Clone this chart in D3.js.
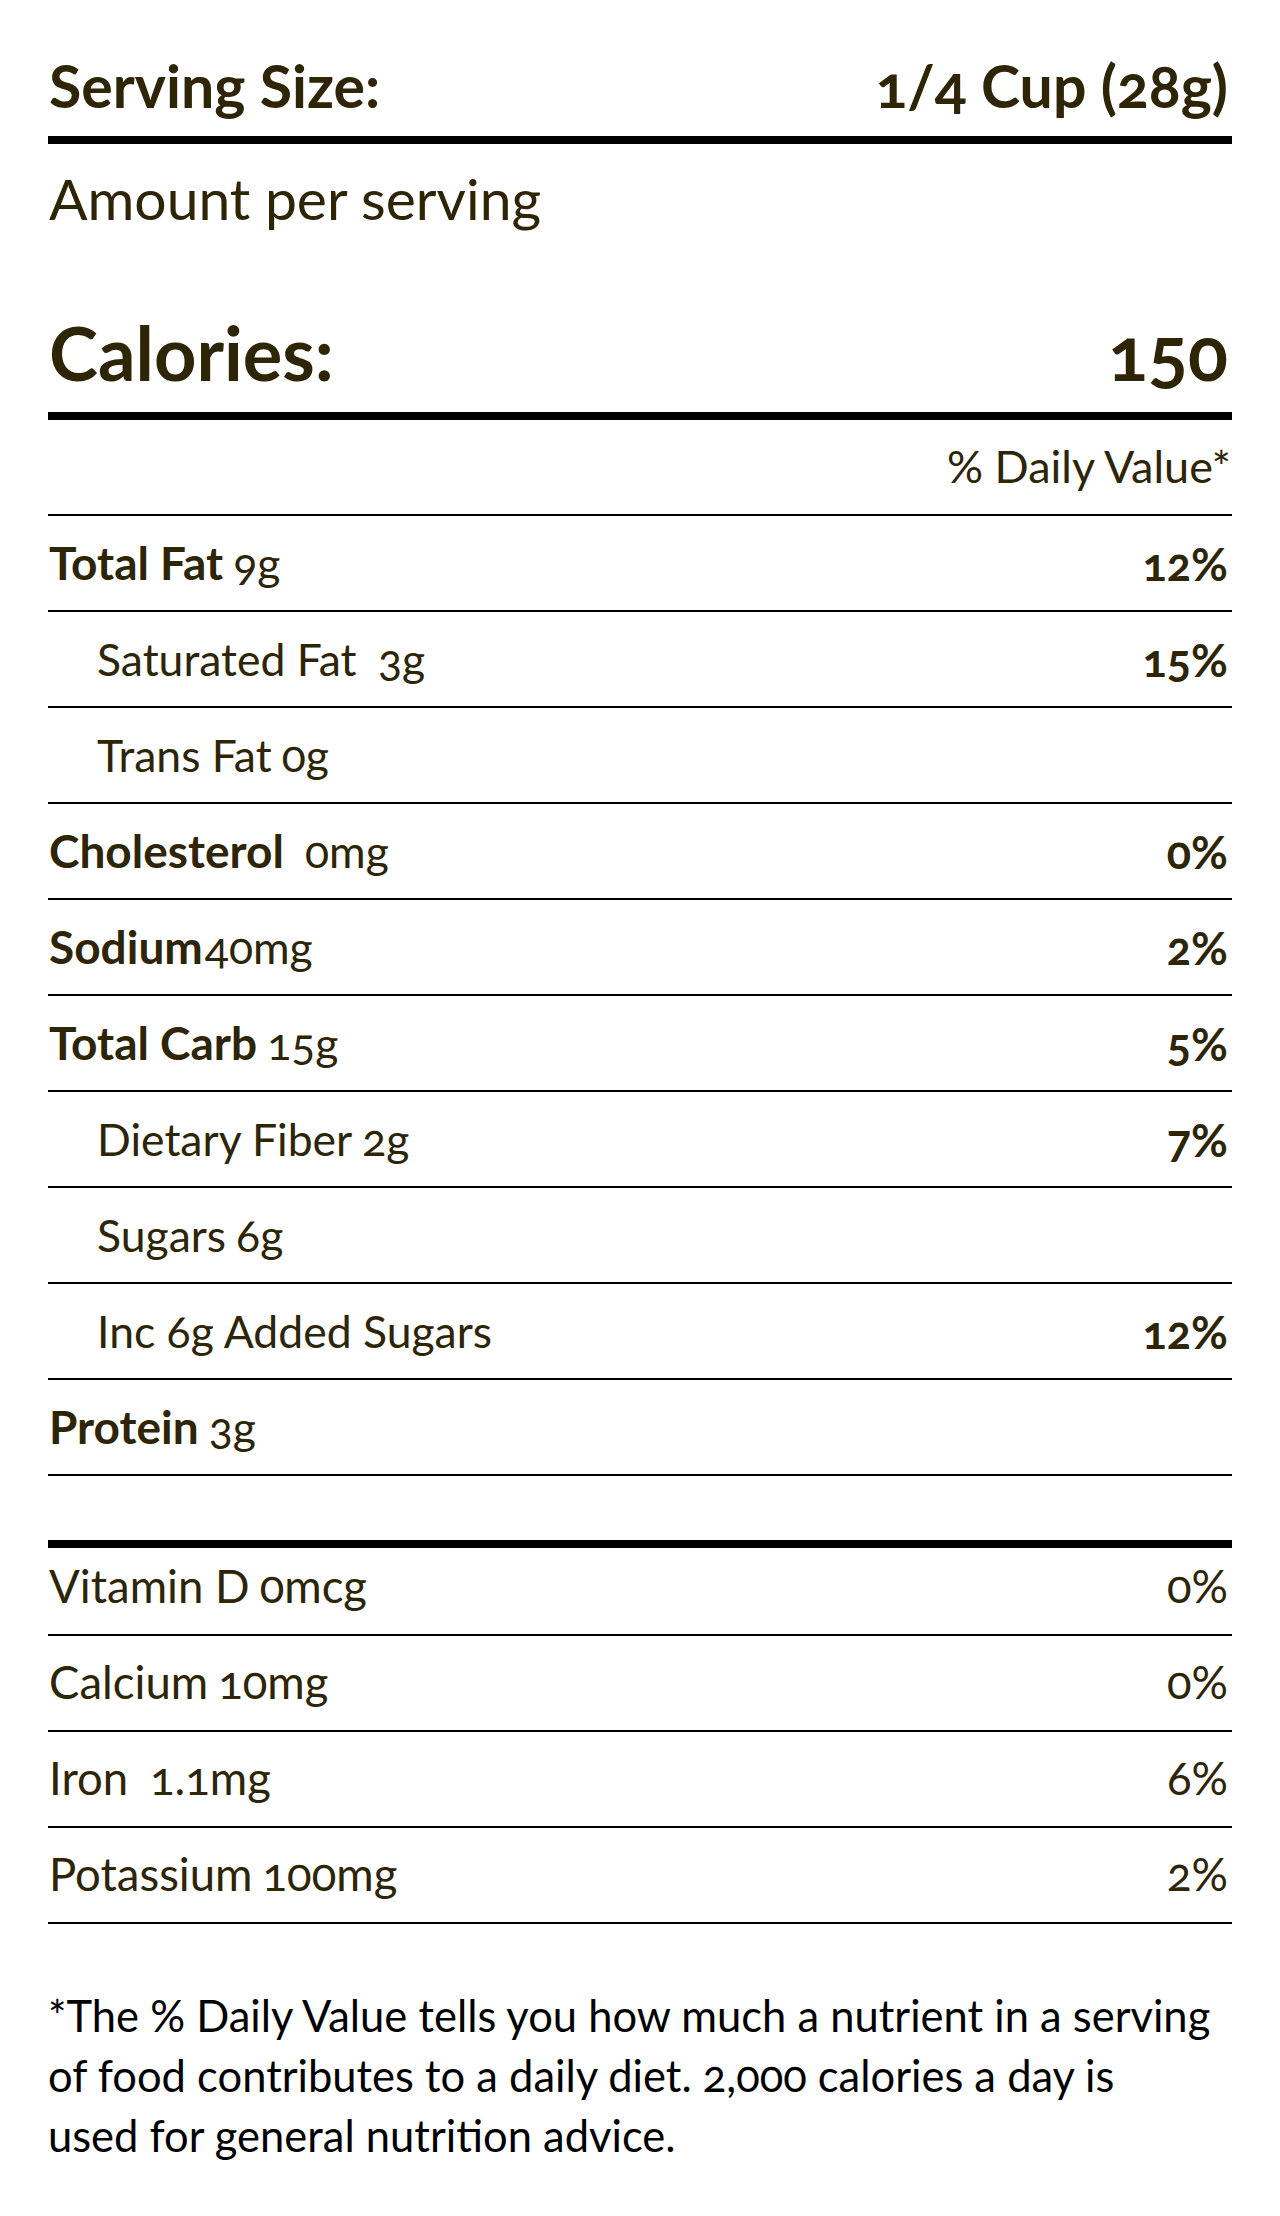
<!DOCTYPE html>
<html>
<head>
<meta charset="utf-8">
<script src="https://cdn.jsdelivr.net/npm/d3@7"></script>
<style>
  html, body { margin: 0; padding: 0; background: #ffffff; }
  svg { display: block; }
  text { font-family: Lato, "Open Sans", sans-serif; white-space: pre; font-variant-numeric: oldstyle-nums; }
</style>
</head>
<body>
<svg id="chart" width="1280" height="2216"></svg>
<script>
// ---------- data ----------
const servingLabel = "Serving Size:";
const servingValue = "1/4 Cup (28g)";
const amountLabel = "Amount per serving";
const caloriesLabel = "Calories:";
const caloriesValue = "150";
const dvHeader = "% Daily Value*";

const rowLabels  = ["Total Fat", "Saturated Fat ", "Trans Fat", "Cholesterol ", "Sodium", "Total Carb", "Dietary Fiber", "Sugars", "Inc 6g Added Sugars", "Protein"];
const rowAmounts = ["9g", "3g", "0g", "0mg", "40mg", "15g", "2g", "6g", "", "3g"];
const rowDV      = ["12%", "15%", "", "0%", "2%", "5%", "7%", "", "12%", ""];
const rowBold    = [true, false, false, true, true, true, false, false, false, true];
const rowIndent  = [false, true, true, false, false, false, true, true, true, false];

const vitLabels  = ["Vitamin D", "Calcium", "Iron ", "Potassium"];
const vitAmounts = ["0mcg", "10mg", "1.1mg", "100mg"];
const vitDV      = ["0%", "0%", "6%", "2%"];

const footnoteLines = [
  "*The % Daily Value tells you how much a nutrient in a serving",
  "of food contributes to a daily diet. 2,000 calories a day is",
  "used for general nutrition advice."
];

// ---------- layout ----------
const TEXT = "#2e2406";
const svg = d3.select("#chart");
svg.append("rect").attr("width", 1280).attr("height", 2216).attr("fill", "#fff");

const x = d3.scaleLinear().domain([0, 1]).range([48, 1232]);
const xText = 49, xIndent = 97, xRight = 1228;
const REG = 44.5, BOLD = 46;

function rule(y, w) {
  svg.append("line")
    .attr("x1", x(0)).attr("x2", x(1))
    .attr("y1", y).attr("y2", y)
    .attr("stroke", "#000").attr("stroke-width", w);
}

// header
svg.append("text").attr("x", xText).attr("y", 108)
  .attr("fill", TEXT).attr("font-size", 59).attr("font-weight", 700).text(servingLabel);
svg.append("text").attr("x", xRight).attr("y", 108).attr("text-anchor", "end")
  .attr("fill", TEXT).attr("font-size", 59).attr("font-weight", 700).text(servingValue);
rule(140, 8);

svg.append("text").attr("x", xText).attr("y", 220)
  .attr("fill", TEXT).attr("font-size", 57).attr("font-weight", 400).text(amountLabel);

svg.append("text").attr("x", xText).attr("y", 381)
  .attr("fill", TEXT).attr("font-size", 74).attr("font-weight", 700).text(caloriesLabel);
svg.append("text").attr("x", xRight).attr("y", 381).attr("text-anchor", "end")
  .attr("fill", TEXT).attr("font-size", 74).attr("font-weight", 700).text(caloriesValue);
rule(416, 8);

svg.append("text").attr("x", 1231).attr("y", 483).attr("text-anchor", "end")
  .attr("fill", TEXT).attr("font-size", 45).attr("font-weight", 400).text(dvHeader);

// nutrient rows
const rowY = d3.scaleLinear().domain([0, 1]).range([515, 611]);
rule(rowY(0), 2);
const rows = svg.append("g").selectAll("g").data(rowLabels).join("g");
rows.each(function (label, i) {
  const g = d3.select(this);
  const base = rowY(i + 1) - 31;
  const t = g.append("text")
    .attr("x", rowIndent[i] ? xIndent : xText).attr("y", base)
    .attr("fill", TEXT);
  t.append("tspan").attr("font-weight", rowBold[i] ? 700 : 400)
    .attr("font-size", rowBold[i] ? BOLD : REG).text(label);
  if (rowAmounts[i]) t.append("tspan").attr("font-weight", 400).attr("font-size", REG)
    .attr("dx", label === "Sodium" ? 2 : 10).text(rowAmounts[i]);
  if (rowDV[i]) {
    g.append("text").attr("x", xRight).attr("y", base + 1).attr("text-anchor", "end")
      .attr("fill", TEXT).attr("font-size", 45).attr("font-weight", 700).text(rowDV[i]);
  }
  rule(rowY(i + 1), 2);
});

// thick separator
rule(1544, 8);

// vitamins
const vitY = d3.scaleLinear().domain([0, 1]).range([1539, 1635]);
const vits = svg.append("g").selectAll("g").data(vitLabels).join("g");
vits.each(function (label, i) {
  const g = d3.select(this);
  const base = vitY(i + 1) - 32;
  const t = g.append("text").attr("x", xText).attr("y", base)
    .attr("fill", TEXT).attr("font-size", 45.5).attr("font-weight", 400);
  t.append("tspan").text(label);
  t.append("tspan").attr("dx", 10).text(vitAmounts[i]);
  g.append("text").attr("x", xRight).attr("y", base).attr("text-anchor", "end")
    .attr("fill", TEXT).attr("font-size", 45.5).attr("font-weight", 400).text(vitDV[i]);
  rule(vitY(i + 1), 2);
});

// footnote
const fnY = d3.scaleLinear().domain([0, 1]).range([2032, 2092]);
svg.append("g").selectAll("text").data(footnoteLines).join("text")
  .attr("x", 48).attr("y", (d, i) => fnY(i))
  .attr("fill", "#000").attr("font-size", 43.5).attr("font-weight", 400)
  .text(d => d);
</script>
</body>
</html>
